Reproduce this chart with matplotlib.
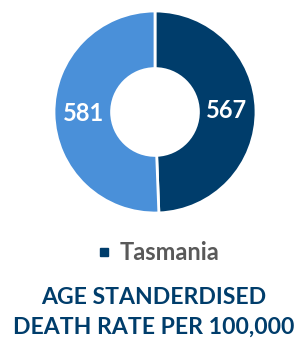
import matplotlib
matplotlib.use('Agg')
import matplotlib.pyplot as plt
from matplotlib.lines import Line2D

# data
categories = ['Tasmania', 'Other']
values = [567, 581]
colors = ['#003d6b', '#4a90d9']
legend_label = 'Tasmania'
title = 'AGE STANDERDISED\nDEATH RATE PER 100,000'

plt.rcParams['font.family'] = ['Lato', 'DejaVu Sans']

W, H = 307, 338
fig = plt.figure(figsize=(W / 100, H / 100), dpi=100)

# pie axes: centre (155,112) px, radius ~100 px
cx, cy, r = 155, 112, 101
ax = fig.add_axes([(cx - r) / W, (H - cy - r) / H, 2 * r / W, 2 * r / H])
total = sum(values)
wedges, texts, autotexts = ax.pie(
    values, colors=colors, startangle=90, counterclock=False,
    radius=1, wedgeprops=dict(width=0.57, edgecolor='white', linewidth=2),
    autopct=lambda p: '%d' % round(p * total / 100), pctdistance=0.71)
for t in autotexts:
    t.set_color('white')
    t.set_fontsize(17)
    t.set_fontweight('bold')
ax.set_xlim(-1.0, 1.0)
ax.set_ylim(-1.0, 1.0)
ax.set_aspect('equal')
ax.axis('off')

# legend
handle = Line2D([], [], marker='s', color=colors[0], linestyle='none', markersize=6)
leg = fig.legend([handle], [legend_label], loc='center', bbox_to_anchor=(157 / W, 1 - 253 / H),
                 frameon=False, handletextpad=0.3, handlelength=0.8,
                 prop=dict(family='Lato', weight='bold', size=17))
for t in leg.get_texts():
    t.set_color('#595959')

# title below
fig.text(0.5, 1 - 312 / H, title, ha='center', va='center', color='#003d6b',
         fontsize=16.6, fontweight='bold', linespacing=1.5)

fig.savefig('out.png', dpi=100)
